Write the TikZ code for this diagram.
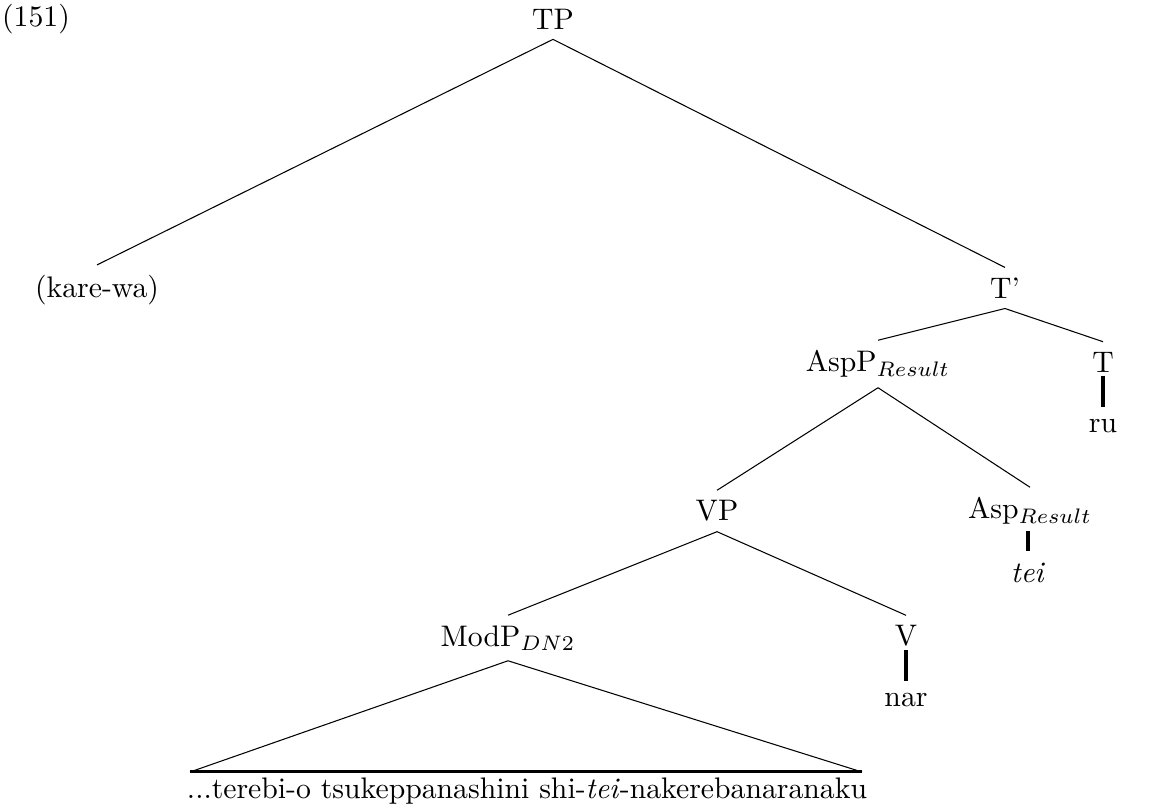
\documentclass[tikz,border=0pt]{standalone}
\begin{document}
\begin{tikzpicture}[x=0.333pt,y=-0.333pt,
  lab/.style={inner xsep=1.5pt,inner ysep=3.2pt,font=\fontsize{9.9}{12}\selectfont},
  br/.style={line width=0.35pt},
  vt/.style={line width=1.1pt,shorten <=-2.2pt,shorten >=0.8pt}]
\useasboundingbox (0,0) rectangle (1156,809);
\node[lab,anchor=west] (ex) at (-3,19) {(151)};
\node[lab] (TP) at (553,19) {TP};
\node[lab] (kare) at (97,290) {(kare-wa)};
\node[lab] (Tb) at (1005,288) {T'};
\node[lab] (AspP) at (878,364) {AspP$_{Result}$};
\node[lab] (T) at (1103,362) {T};
\node[lab] (ru) at (1103,426) {ru};
\node[lab] (VP) at (717,511) {VP};
\node[lab] (Asp) at (1030,511) {Asp$_{Result}$};
\node[lab] (tei) at (1028,573) {\textit{tei}};
\node[lab] (ModP) at (508,638) {ModP$_{DN2}$};
\node[lab] (V) at (906,636) {V};
\node[lab] (nar) at (906,700) {nar};
\node[lab] (txt) at (527,791) {...terebi-o tsukeppanashini shi-\textit{tei}-nakerebanaranaku};
\coordinate (bl) at (190,772);
\coordinate (brr) at (862,772);
\draw[br] (TP.south) -- (kare.north);
\draw[br] (TP.south) -- (Tb.north);
\draw[br] (Tb.south) -- (AspP.north);
\draw[br] (Tb.south) -- (T.north);
\draw[vt] (T.south) -- (ru.north);
\draw[br] (AspP.south) -- (VP.north);
\draw[br] (AspP.south) -- (Asp.north);
\draw[vt,shorten <=-1.2pt,shorten >=0.5pt] (Asp.south -| tei.north) -- (tei.north);
\draw[br] (VP.south) -- (ModP.north);
\draw[br] (VP.south) -- (V.north);
\draw[vt] (V.south) -- (nar.north);
\draw[br] (ModP.south) -- (bl);
\draw[br] (ModP.south) -- (brr);
\draw[line width=1pt] (bl) -- (brr);
\end{tikzpicture}
\end{document}
